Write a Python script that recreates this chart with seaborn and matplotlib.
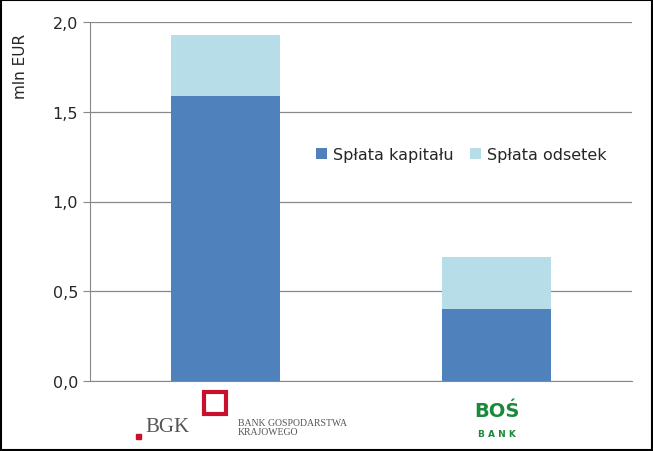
import matplotlib
matplotlib.use("Agg")
import matplotlib.pyplot as plt
import seaborn as sns
import pandas as pd
from matplotlib.patches import Rectangle

banks = ["BGK", "BOŚ"]
kapital = [1.59, 0.40]
odsetki = [0.34, 0.29]
yticks = [0.0, 0.5, 1.0, 1.5, 2.0]

sns.set_style("white")
plt.rcParams['font.family'] = ['DejaVu Sans']
fig = plt.figure(figsize=(6.53, 4.52), dpi=100)
ax = fig.add_axes([90/653, 1-382/452, 542/653, 359/452])

df = pd.DataFrame({"bank": banks, "kap": kapital,
                   "tot": [k + o for k, o in zip(kapital, odsetki)]})
sns.barplot(data=df, x="bank", y="tot", color="#B7DEE8", width=0.4, ax=ax,
            saturation=1, label="Spłata odsetek", zorder=3, linewidth=0)
sns.barplot(data=df, x="bank", y="kap", color="#4F81BD", width=0.4, ax=ax,
            saturation=1, label="Spłata kapitału", zorder=3, linewidth=0)
ax.set_ylim(0, 2.0)
ax.set_xlim(-0.5, 1.5)
ax.set_yticks(yticks)
ax.set_yticklabels([f"{v:.1f}".replace(".", ",") for v in yticks], fontsize=11.5)
ax.yaxis.grid(True, color="#888888", linewidth=0.9, zorder=0)
ax.set_axisbelow(True)
for s in ["top", "right"]:
    ax.spines[s].set_visible(False)
ax.spines["left"].set_color("#888888")
ax.spines["bottom"].set_color("#888888")
ax.tick_params(axis="y", length=5, color="#888888", left=True)
ax.set_xticklabels([])
ax.set_xlabel("")
ax.set_ylabel("mln EUR", fontsize=11)
ax.yaxis.set_label_coords(-0.115, 0.88)
h, l = ax.get_legend_handles_labels()
ax.legend(h[::-1], l[::-1], loc="center left", bbox_to_anchor=(0.39, 0.63),
          ncol=2, frameon=False, fontsize=11.5, handlelength=0.7,
          handleheight=0.7, columnspacing=1.0, handletextpad=0.4)

# logo texts
fig.text(145/653, 1-428/452, "BGK", fontsize=15, color="#555555",
         family="Liberation Serif", va="center")
fig.patches.append(Rectangle((136/653, 1-440/452), 5/653, 5/452,
                             transform=fig.transFigure, color="#C8102E"))
fig.patches.append(Rectangle((204/653, 1-415/452), 22/653, 22/452, fill=False,
                             lw=3, edgecolor="#C8102E", transform=fig.transFigure))
fig.text(238/653, 1-428/452, "BANK GOSPODARSTWA\nKRAJOWEGO", fontsize=7,
         color="#555555", family="Liberation Serif", va="center", linespacing=1.1)
fig.text(497/653, 1-412/452, "BOŚ", fontsize=14, color="#1A8A3A",
         weight="bold", ha="center", va="center")
fig.text(497/653, 1-435/452, "B A N K", fontsize=6.5, color="#1A8A3A",
         weight="bold", ha="center", va="center")
fig.patches.append(Rectangle((1/653, 1/452), 651/653, 450/452, fill=False,
                             lw=1.5, edgecolor="black", transform=fig.transFigure))
fig.savefig("out.png", dpi=100)
